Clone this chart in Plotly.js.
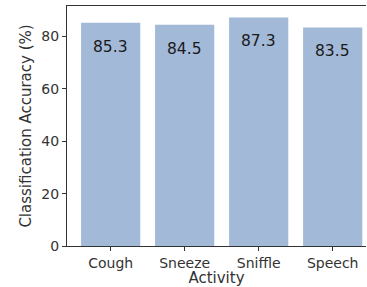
<!DOCTYPE html>
<html><head><meta charset="utf-8">
<script src="https://cdn.plot.ly/plotly-3.0.1.min.js"></script>
<style>html,body{margin:0;padding:0;background:#fff}</style>
</head><body>
<div id="chart" style="width:367px;height:287px"></div>
<script>
const activities = ["Cough", "Sneeze", "Sniffle", "Speech"];
const accuracy = [85.3, 84.5, 87.3, 83.5];
const labels = ["85.3", "84.5", "87.3", "83.5"];
const yTicks = [0, 20, 40, 60, 80];

const font = "DejaVu Sans, sans-serif";
const trace = {
  type: "bar",
  x: activities.map((_, i) => i),
  y: accuracy,
  width: 0.8,
  marker: {color: "#a3b9d8", line: {width: 0}},
  hoverinfo: "none"
};
const annotations = accuracy.map((v, i) => ({
  x: i, y: v, xref: "x", yref: "y", text: labels[i], showarrow: false,
  yshift: -24, font: {family: font, size: 15.5, color: "#1a1a1a"}
}));
const layout = {
  width: 367, height: 287,
  margin: {l: 67, r: 1, t: 6, b: 41},
  paper_bgcolor: "#fff", plot_bgcolor: "#fff",
  showlegend: false,
  bargap: 0.2,
  xaxis: {
    range: [-0.59, 3.45],
    tickvals: activities.map((_, i) => i),
    ticktext: activities,
    showline: true, linecolor: "#333", linewidth: 1, mirror: true,
    showgrid: false, zeroline: false,
    ticks: "outside", ticklen: 4, tickcolor: "#333",
    tickfont: {family: font, size: 14, color: "#333"},
    title: {text: "Activity", font: {family: font, size: 15, color: "#333"}, standoff: 1}
  },
  yaxis: {
    range: [0, 91.67],
    tickvals: yTicks,
    showline: true, linecolor: "#333", linewidth: 1,
    showgrid: false, zeroline: false,
    ticks: "outside", ticklen: 4, tickcolor: "#333",
    tickfont: {family: font, size: 14, color: "#333"},
    title: {text: "Classification Accuracy (%)", font: {family: font, size: 15, color: "#333"}, standoff: 6}
  },
  annotations: annotations
};
Plotly.newPlot("chart", [trace], layout, {displayModeBar: false, staticPlot: true});
</script>
</body></html>
